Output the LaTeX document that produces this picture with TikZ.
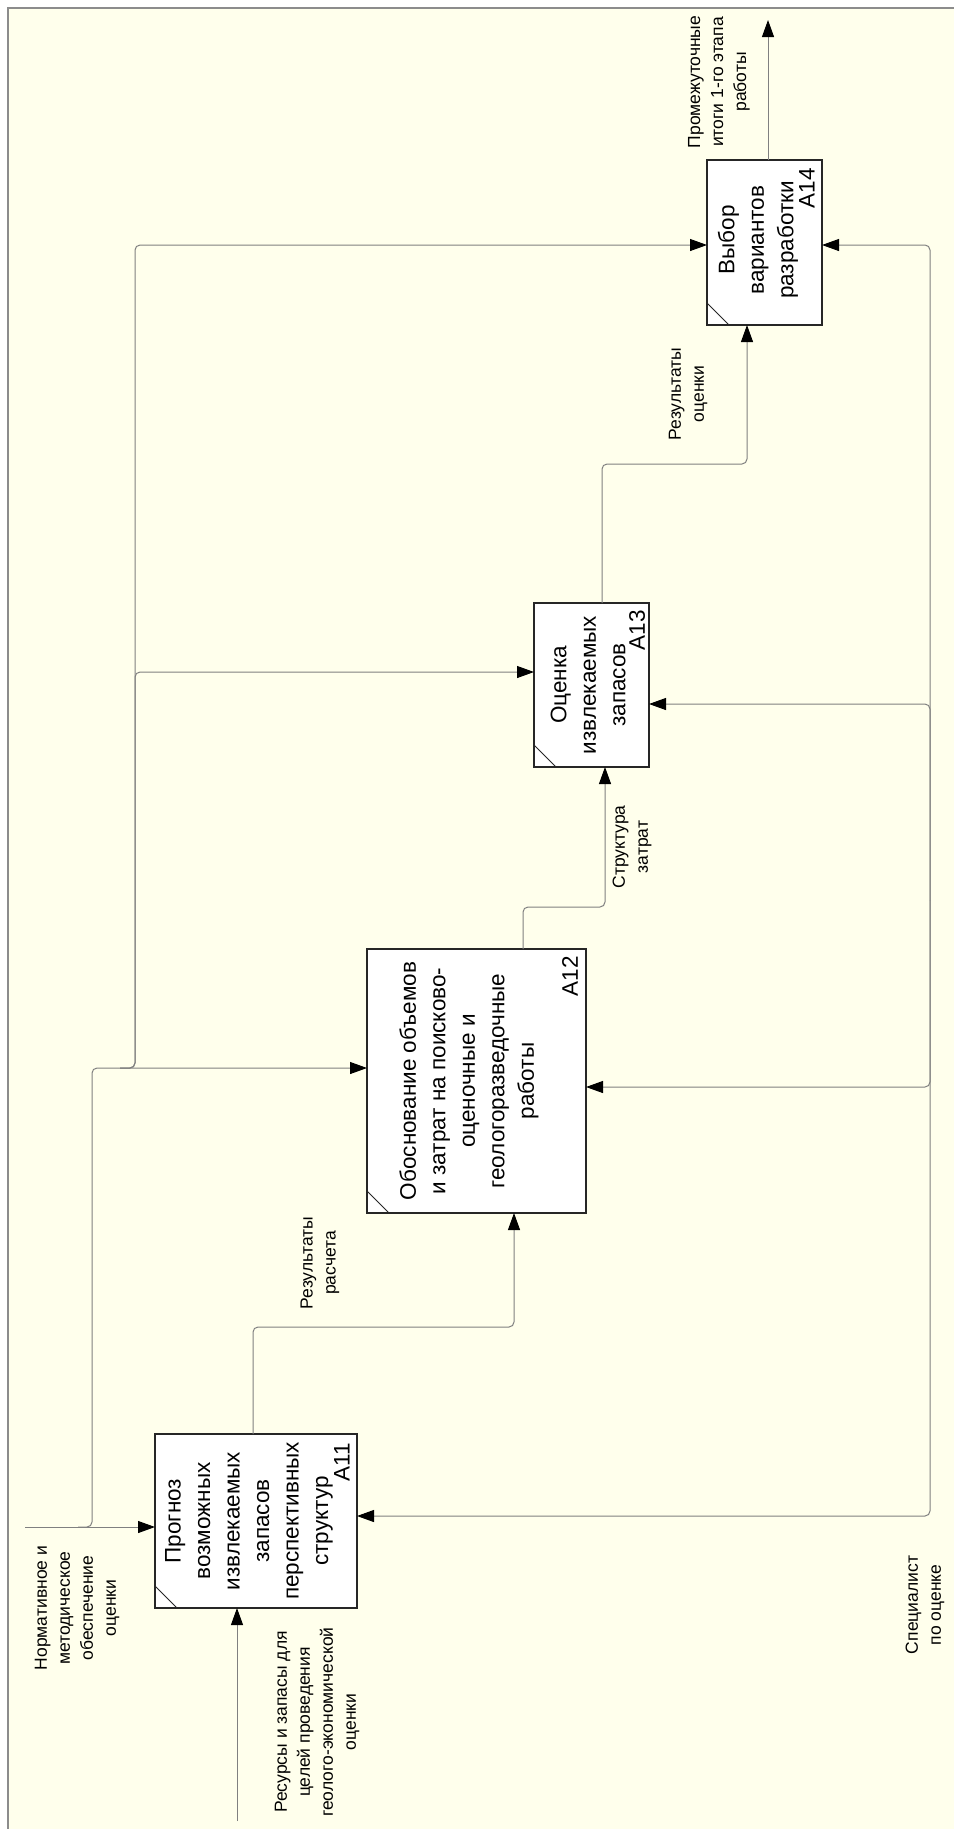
\documentclass[tikz,border=0pt]{standalone}
\usepackage{fontspec}
\setmainfont{Liberation Sans}
\usetikzlibrary{arrows.meta}
\definecolor{cream}{RGB}{255,255,236}
\definecolor{lin}{RGB}{128,128,128}
\definecolor{frm}{RGB}{140,140,140}
\begin{document}
\begin{tikzpicture}[x=1pt,y=1pt,
  box/.style={draw=black!85,line width=1.3pt,fill=white,inner sep=0pt,outer sep=0pt},
  btext/.style={rotate=90,align=center,inner sep=0pt,font=\fontsize{22.5}{29.5}\selectfont},
  lbl/.style={rotate=90,align=center,inner sep=0pt,font=\fontsize{17.5}{23}\selectfont},
  conn/.style={draw=lin,line width=1pt,rounded corners=5pt},
  arr/.style={conn,-{Triangle[length=17pt,width=12pt,color=black]}},
  tick/.style={draw=black!85,line width=1pt}
]
\useasboundingbox (0,0) rectangle (954,-1829);
\fill[white] (0,0) rectangle (954,-1829);
\fill[cream] (8,-8) rectangle (954,-1829);
\draw[frm,line width=1.5pt] (8,-1829) -- (8,-8) -- (954,-8);

% boxes
\node[box,minimum width=202pt,minimum height=174pt] (A11) at (256,-1521) {};
\node[box,minimum width=219pt,minimum height=264pt] (A12) at (476.5,-1081) {};
\node[box,minimum width=115pt,minimum height=164pt] (A13) at (591.5,-685) {};
\node[box,minimum width=115pt,minimum height=165pt] (A14) at (764.5,-242.5) {};

\foreach \b in {A11,A12,A13,A14}{
  \draw[tick] ([yshift=22pt]\b.south west) -- ([xshift=22pt]\b.south west);
}

\node[btext] (A11t) at (249,-1521) {Прогноз\\возможных\\извлекаемых\\запасов\\перспективных\\структур};
\node[btext] (A12t) at (469,-1081) {Обоснование объемов\\и затрат на поисково-\\оценочные и\\геологоразведочные\\работы};
\node[btext] (A13t) at (588,-685) {Оценка\\извлекаемых\\запасов};
\node[btext] (A14t) at (758,-240) {Выбор\\вариантов\\разработки};

\node[btext] (A11n) at (342,-1462) {A11};
\node[btext] (A12n) at (570,-976) {A12};
\node[btext] (A13n) at (637,-630) {A13};
\node[btext] (A14n) at (807,-188) {A14};

% coordinates
\coordinate (cin) at (25,-1527);
\coordinate (c1) at (78,-1527);
\coordinate (k12) at (0,-1068);
\coordinate (c2) at (120,-1068);
\coordinate (k13) at (0,-672);
\coordinate (k14) at (0,-245);
\coordinate (rin) at (237,-1821);
\coordinate (msrc) at (930,-900);
\coordinate (m11) at (0,-1516);
\coordinate (m12) at (0,-1087);
\coordinate (m13) at (0,-704);
\coordinate (m14) at (0,-245);
\coordinate (o11) at (253,-1327);
\coordinate (i12) at (514,-1327);
\coordinate (o12) at (523,-907);
\coordinate (i13) at (605,-907);
\coordinate (o13) at (602,-464);
\coordinate (i14) at (747,-464);
\coordinate (oend) at (768,-20);

% controls
\draw[arr] (cin) -- (A11.west |- cin);
\draw[arr] (c1) -- (92,-1527) -- (92,-1068) -- (A12.west |- k12);
\draw[arr] (c2) -- (135,-1068) -- (135,-672) -- (A13.west |- k13);
\draw[arr] (c2) -- (135,-1068) -- (135,-245) -- (A14.west |- k14);

% input
\draw[arr] (rin) -- (A11.south -| rin);

% mechanisms
\draw[arr] (msrc) -- (930,-1516) -- (A11.east |- m11);
\draw[arr] (msrc) -- (930,-1087) -- (A12.east |- m12);
\draw[arr] (msrc) -- (930,-704) -- (A13.east |- m13);
\draw[arr] (msrc) -- (930,-245) -- (A14.east |- m14);

% outputs
\draw[arr] (A11.north -| o11) -- (o11) -- (i12) -- (A12.south -| i12);
\draw[arr] (A12.north -| o12) -- (o12) -- (i13) -- (A13.south -| i13);
\draw[arr] (A13.north -| o13) -- (o13) -- (i14) -- (A14.south -| i14);
\draw[arr] (A14.north -| oend) -- (oend);

% labels
\node[lbl] (L1) at (77,-1608) {Нормативное и\\методическое\\обеспечение\\оценки};
\node[lbl] (L2) at (317,-1722) {Ресурсы и запасы для\\целей проведения\\геолого-экономической\\оценки};
\node[lbl] (L3) at (925,-1605) {Специалист\\по оценке};
\node[lbl] (L4) at (719,-82) {Промежуточные\\итоги 1-го этапа\\работы};
\node[lbl] (L5) at (320,-1263) {Результаты\\расчета};
\node[lbl] (L6) at (632,-847) {Структура\\затрат};
\node[lbl] (L7) at (688,-394) {Результаты\\оценки};
\end{tikzpicture}
\end{document}
